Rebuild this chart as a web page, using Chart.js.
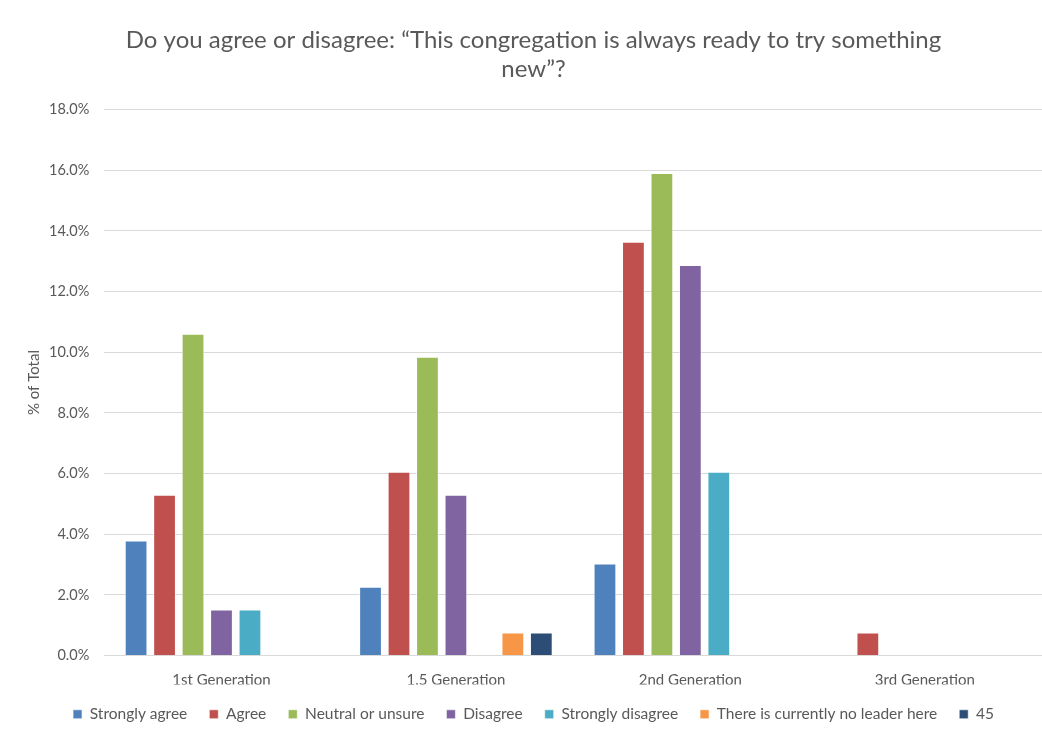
<!DOCTYPE html>
<html>
<head>
<meta charset="utf-8">
<script src="https://cdn.jsdelivr.net/npm/chart.js"></script>
<style>
  html, body { margin: 0; padding: 0; background: #fff; }
  #wrap { width: 1042px; height: 737px; }
</style>
</head>
<body>
<div id="wrap"><canvas id="chart" width="1042" height="737"></canvas></div>
<script>
const categories = ["1st Generation", "1.5 Generation", "2nd Generation", "3rd Generation"];
const seriesNames = ["Strongly agree", "Agree", "Neutral or unsure", "Disagree", "Strongly disagree", "There is currently no leader here", "45"];
const seriesColors = ["#4f81bd", "#c0504d", "#9bbb59", "#8064a2", "#4bacc6", "#f79646", "#2c4d75"];

// % of total, per series, in category order
const stronglyAgree = [3.79, 2.27, 3.03, 0];
const agree = [5.30, 6.06, 13.64, 0.76];
const neutral = [10.61, 9.85, 15.91, 0];
const disagree = [1.52, 5.30, 12.88, 0];
const stronglyDisagree = [1.52, 0, 6.06, 0];
const noLeader = [0, 0.76, 0, 0];
const s45 = [0, 0.76, 0, 0];

const yTicks = [0, 2, 4, 6, 8, 10, 12, 14, 16, 18];

const seriesValues = [stronglyAgree, agree, neutral, disagree, stronglyDisagree, noLeader, s45];

const textColor = "#595959";
const fontFamily = "Lato, 'Open Sans', sans-serif";

new Chart(document.getElementById("chart"), {
  type: "bar",
  data: {
    labels: categories,
    datasets: seriesNames.map((name, i) => ({
      label: name,
      data: seriesValues[i],
      backgroundColor: seriesColors[i],
      borderColor: "rgba(255,255,255,0.6)",
      borderWidth: 1,
      categoryPercentage: 0.85,
      barPercentage: 0.8
    }))
  },
  options: {
    responsive: false,
    animation: false,
    layout: { padding: { left: 25, right: 0, top: 10, bottom: 5 } },
    plugins: {
      title: {
        display: true,
        text: ["Do you agree or disagree: \u201cThis congregation is always ready to try something", "new\u201d?"],
        color: textColor,
        font: { family: fontFamily, size: 24, weight: "normal", lineHeight: 1.2 },
        padding: { top: 16, bottom: 26 }
      },
      legend: {
        position: "bottom",
        labels: {
          color: textColor,
          font: { family: fontFamily, size: 15.5 },
          boxWidth: 9,
          boxHeight: 9,
          padding: 22
        }
      },
      tooltip: { enabled: false }
    },
    scales: {
      x: {
        grid: { display: false, drawTicks: false },
        border: { color: "#d9d9d9" },
        ticks: { color: textColor, font: { family: fontFamily, size: 15 }, padding: 16 },
        // let the legend sit closer to the category labels
        afterFit: scale => { scale.height -= 21; }
      },
      y: {
        min: 0,
        max: 18,
        afterBuildTicks: axis => { axis.ticks = yTicks.map(v => ({ value: v })); },
        grid: { color: "#d9d9d9", drawTicks: false },
        border: { display: false },
        title: {
          display: true,
          text: "% of Total",
          color: textColor,
          font: { family: fontFamily, size: 15 },
          padding: 0
        },
        ticks: {
          color: textColor,
          font: { family: fontFamily, size: 14.5 },
          padding: 15,
          callback: v => v.toFixed(1) + "%"
        },
        // pull the axis title closer to the tick labels
        afterFit: scale => { scale.width -= 9; }
      }
    }
  }
});
</script>
</body>
</html>
